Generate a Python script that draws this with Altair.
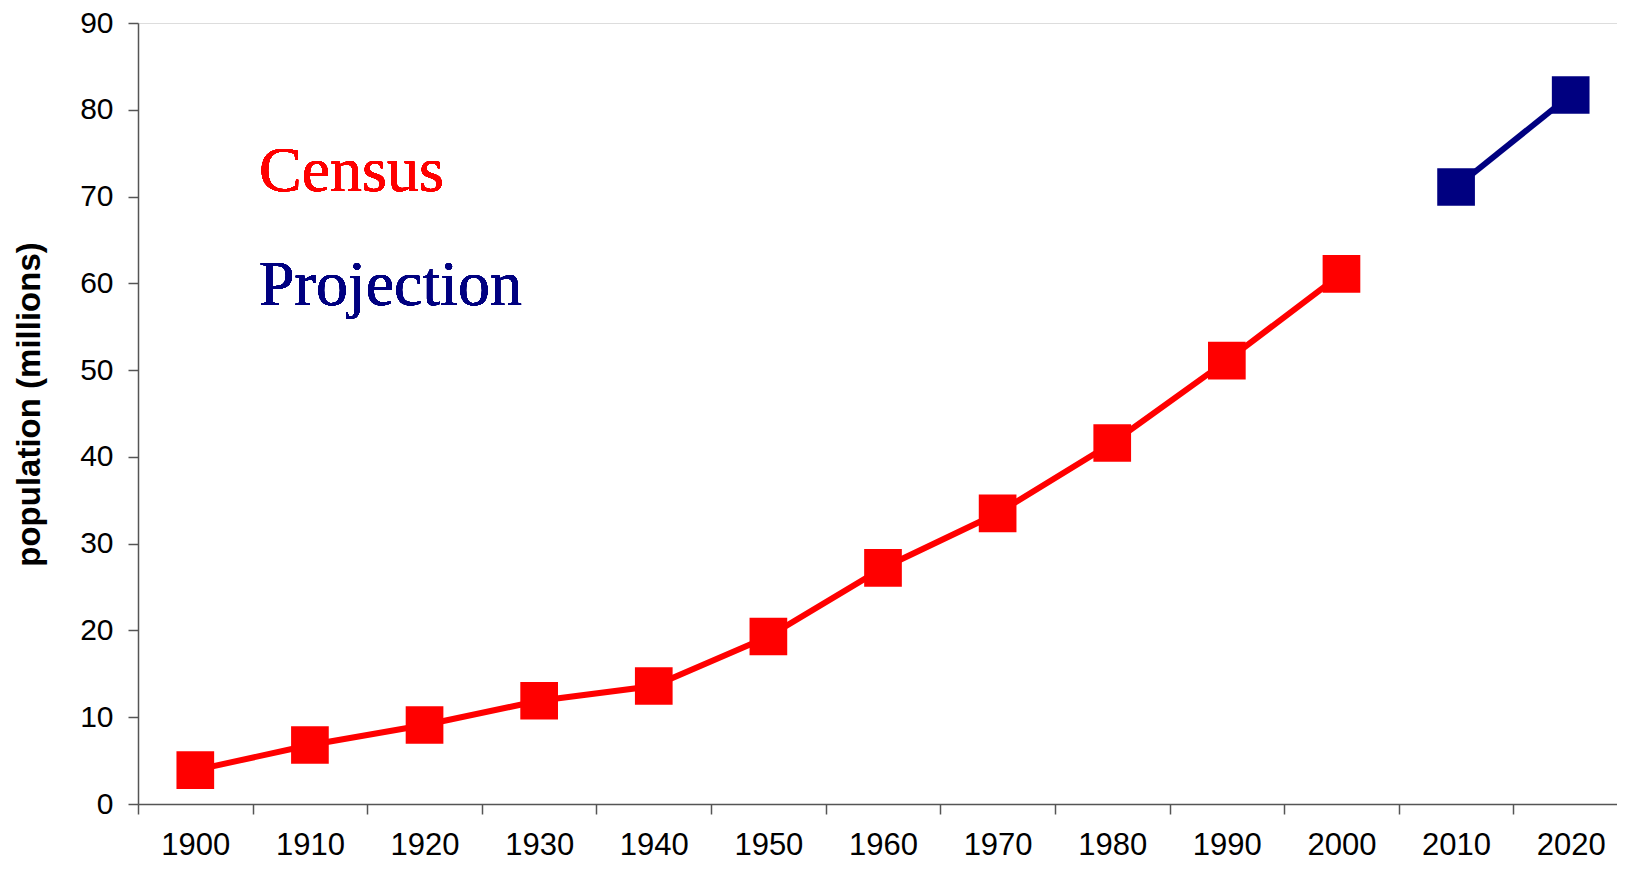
import altair as alt
import pandas as pd

years = ["1900", "1910", "1920", "1930", "1940", "1950", "1960",
         "1970", "1980", "1990", "2000", "2010", "2020"]
population = [3.9, 6.8, 9.1, 11.9, 13.6, 19.3, 27.2, 33.5, 41.6, 51.1, 61.1, 71.1, 81.7]
series = ["Census"] * 11 + ["Projection"] * 2

series_names = ["Census", "Projection"]
series_colors = ["#FF0000", "#000080"]

df = pd.DataFrame({"year": years, "pop": population, "series": series})

x_enc = alt.X(
    "year:O",
    sort=years,
    scale=alt.Scale(paddingInner=0, paddingOuter=0, range=[0, 1490]),
    axis=alt.Axis(
        title=None, labelAngle=0, tickBand="extent", tickSize=10,
        labelFont="Liberation Sans", labelFontSize=31, labelColor="black",
        labelPadding=16, domainColor="#555555", tickColor="#555555",
        domainWidth=1.5, tickWidth=1.5, grid=False,
    ),
)
y_enc = alt.Y(
    "pop:Q",
    scale=alt.Scale(domain=[0, 90], nice=False, zero=True),
    axis=alt.Axis(
        title="population (millions)", values=list(range(0, 91, 10)),
        tickSize=10, labelFont="Liberation Sans", labelFontSize=30,
        labelColor="black", labelPadding=15, domainColor="#555555",
        tickColor="#555555", domainWidth=1.5, tickWidth=1.5, grid=False,
        titleFont="Liberation Sans", titleFontSize=33, titleFontWeight="bold",
        titleColor="black", titleAngle=270, titleAlign="center",
        titleBaseline="alphabetic", titleX=-99, titleY=381,
    ),
)
color_enc = alt.Color(
    "series:N", scale=alt.Scale(domain=series_names, range=series_colors), legend=None
)

lines = alt.Chart(df).mark_line(strokeWidth=6).encode(
    x=x_enc, y=y_enc, color=color_enc, detail="series:N"
)
points = alt.Chart(df).mark_point(shape="square", filled=True, size=1420, opacity=1).encode(
    x=x_enc, y=y_enc, color=color_enc
)

census_lbl = alt.Chart(df).mark_text(
    text="Census", font="Liberation Serif", fontSize=64, color=series_colors[0],
    align="left", baseline="alphabetic",
).encode(x=alt.value(121), y=alt.value(168))
proj_lbl = alt.Chart(df).mark_text(
    text="Projection", font="Liberation Serif", fontSize=64, color=series_colors[1],
    align="left", baseline="alphabetic",
).encode(x=alt.value(121), y=alt.value(282))

chart = alt.layer(lines, points, census_lbl, proj_lbl).properties(
    width=1479, height=781,
    padding={"left": 130, "top": 15, "right": 0, "bottom": 57},
    autosize=alt.AutoSizeParams(type="none"),
).configure_view(stroke=None).configure(background="white")

chart.save("out.html", embed_options={"renderer": "svg", "actions": False})
